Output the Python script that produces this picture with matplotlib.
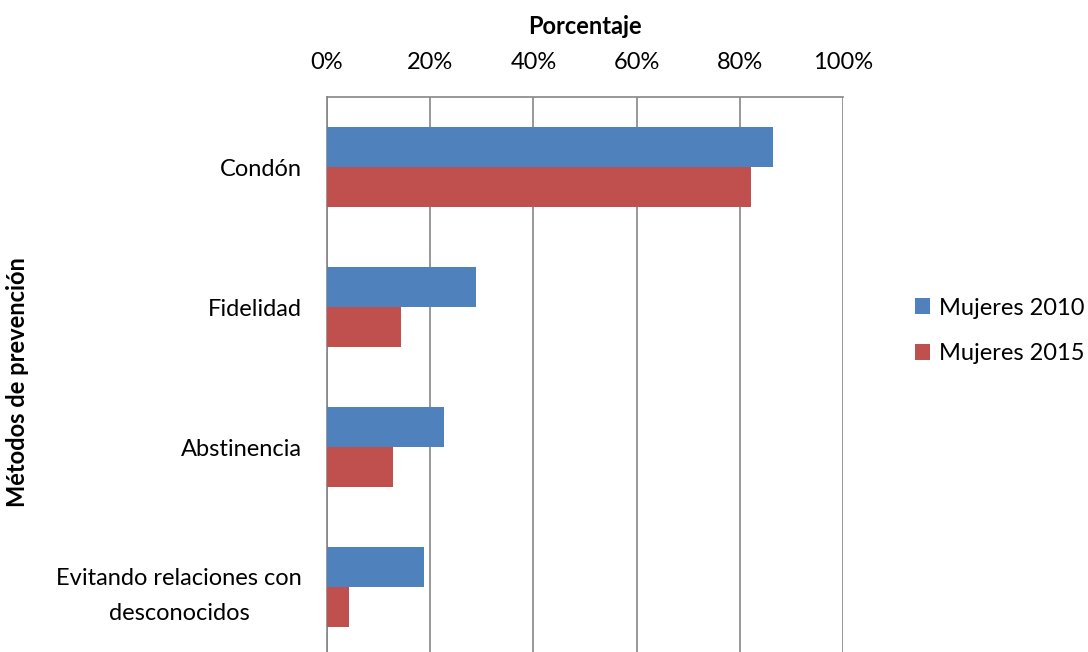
import numpy as np
import matplotlib as mpl
mpl.use('Agg')
import matplotlib.pyplot as plt
from matplotlib.ticker import PercentFormatter

# data
metodos = ['Condón', 'Fidelidad', 'Abstinencia', 'Evitando relaciones con\ndesconocidos']
mujeres_2010 = [86.4, 28.9, 22.6, 18.8]
mujeres_2015 = [82.2, 14.3, 12.8, 4.3]
series_names = ['Mujeres 2010', 'Mujeres 2015']

plt.rcParams['font.family'] = ['Lato', 'DejaVu Sans']
fs = 17

fig = plt.figure(figsize=(10.88, 6.52), dpi=100)
# plot area runs a little past the bottom edge, as in the original
ax = fig.add_axes([327 / 1088, -5 / 652, 516 / 1088, 560 / 652])

y = np.arange(len(metodos))
h = 0.2857
ax.barh(y - h / 2, mujeres_2010, height=h, color='#4F81BD', label=series_names[0], zorder=3)
ax.barh(y + h / 2, mujeres_2015, height=h, color='#C0504D', label=series_names[1], zorder=3)

ax.set_ylim(len(metodos) - 0.5, -0.5)
ax.set_xlim(0, 100)
ax.set_yticks(y)
ax.set_yticklabels(metodos, fontsize=fs, linespacing=1.8)
ax.set_xticks(np.arange(0, 101, 20))
ax.xaxis.set_major_formatter(PercentFormatter(decimals=0))
ax.xaxis.tick_top()
ax.xaxis.set_label_position('top')
ax.tick_params(axis='x', length=0, labelsize=fs, pad=17)
ax.tick_params(axis='y', length=0, pad=18)
for lbl in ax.get_yticklabels():
    lbl.set_horizontalalignment('right')
    lbl.set_multialignment('center')

ax.grid(axis='x', color='#868686', linewidth=1.2, zorder=0)
for s in ['right', 'bottom']:
    ax.spines[s].set_visible(False)
for s in ['top', 'left']:
    ax.spines[s].set_color('#868686')
    ax.spines[s].set_linewidth(1.2)

ax.set_xlabel('Porcentaje', fontsize=fs, fontweight='bold', labelpad=13)
fig.text(18 / 1088, 1 - 382 / 652, 'Métodos de prevención', rotation=90, fontsize=fs,
         fontweight='bold', ha='center', va='center')

ax.legend(loc='center left', bbox_to_anchor=(915 / 1088, 1 - 331 / 652),
          bbox_transform=fig.transFigure, frameon=False, fontsize=fs,
          handlelength=0.65, handleheight=0.65, handletextpad=0.35,
          labelspacing=1.05, borderpad=0, borderaxespad=0)

plt.savefig('out.png', dpi=100)
plt.close()
